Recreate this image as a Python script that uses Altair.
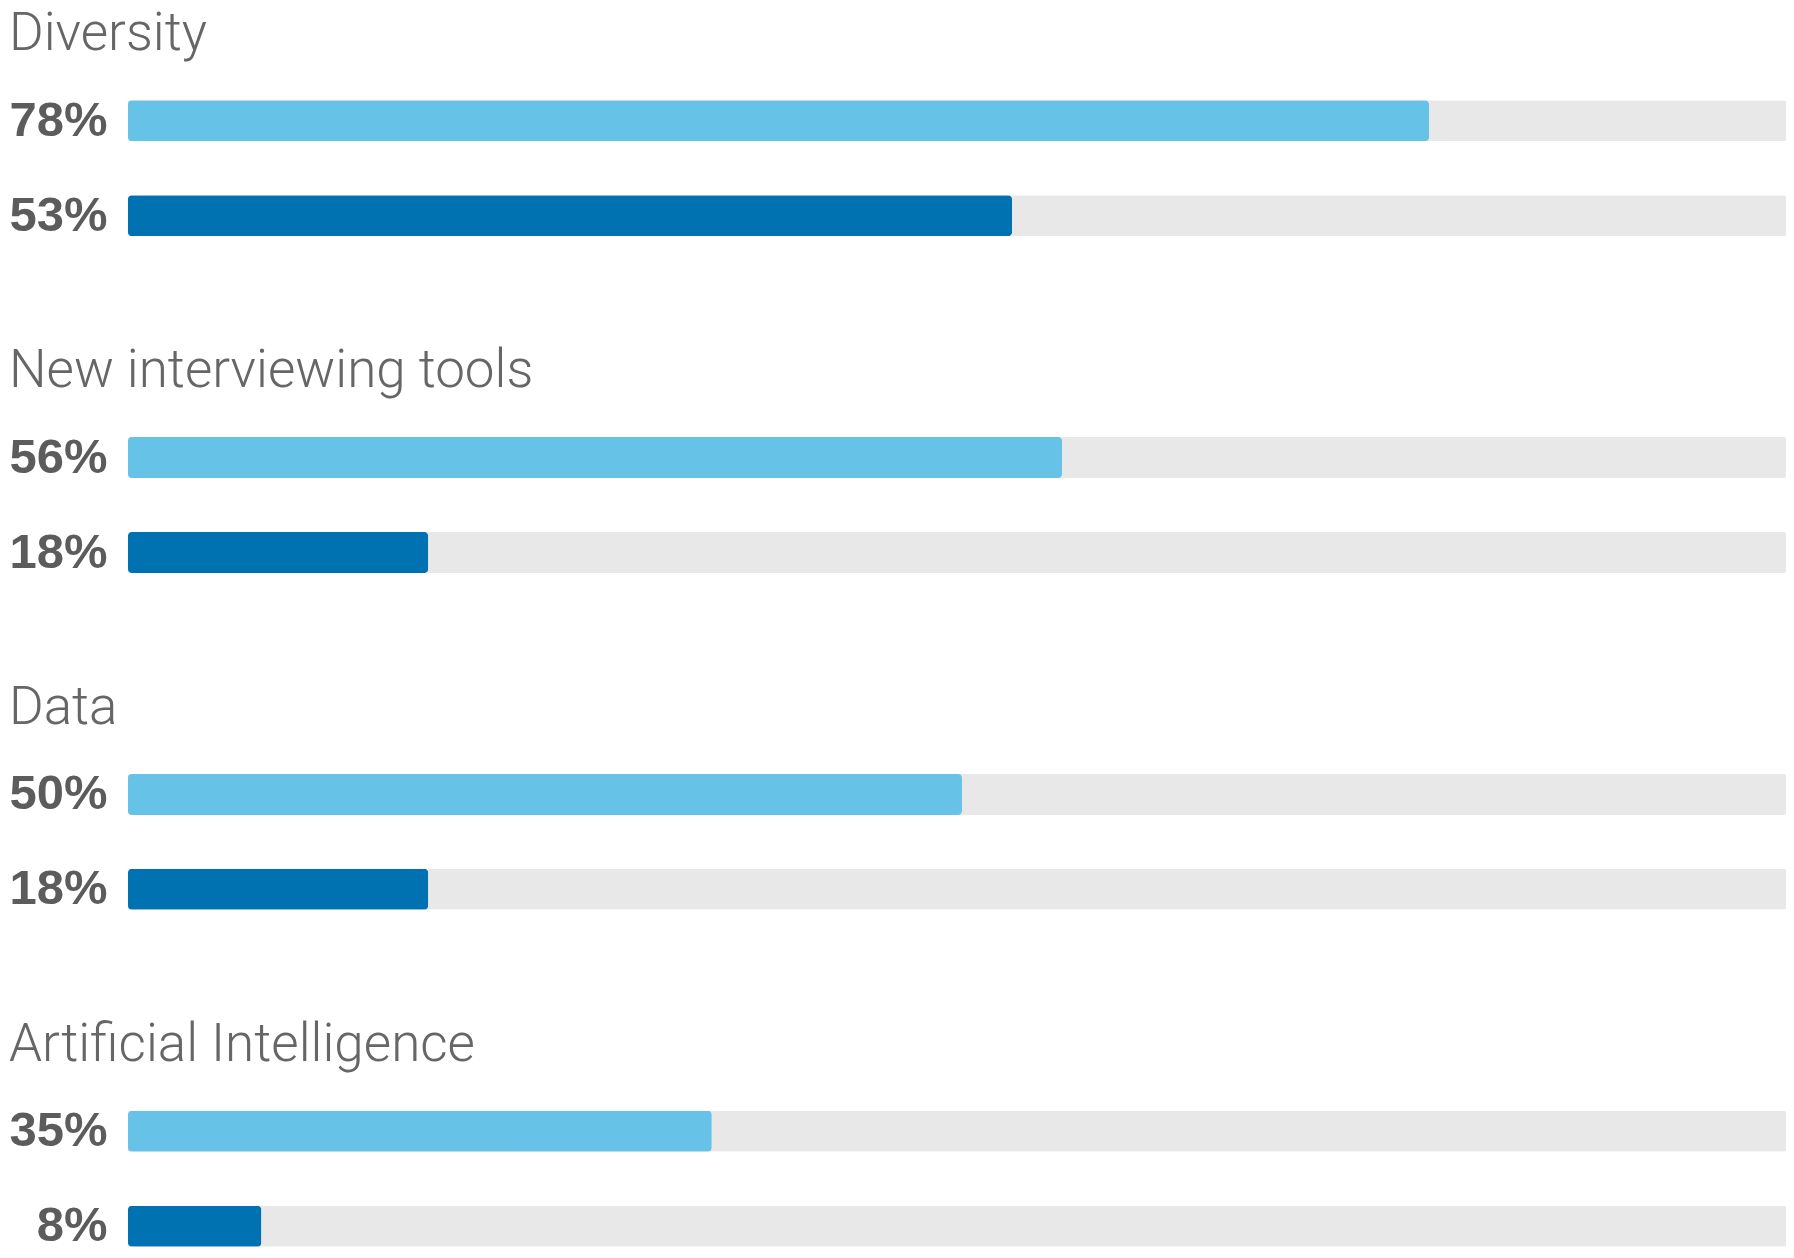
import altair as alt
import pandas as pd

categories = ["Diversity", "New interviewing tools", "Data", "Artificial Intelligence"]
series_a = [78, 56, 50, 35]
series_b = [53, 18, 18, 8]
series_names = ["A", "B"]
series_colors = ["#66C2E7", "#0071B1"]
track_color = "#E8E8E8"

rows = []
for i, cat in enumerate(categories):
    for j, v in enumerate([series_a[i], series_b[i]]):
        rows.append({"category": cat, "series": series_names[j], "order": j,
                     "value": v, "label": f"{v}%"})
df = pd.DataFrame(rows)

BAR_STEP = 95
BAR_H = 41
pad_inner = 1 - BAR_H / BAR_STEP
panel_h = BAR_STEP + BAR_H
panel_w = 1659

x_scale = alt.Scale(domain=[0, 99.4], clamp=True)


def panel(cat):
    d = df[df.category == cat]
    order = list(d.sort_values("order")["label"])
    base = alt.Chart(d)
    y = alt.Y(
        "label:N",
        sort=order,
        scale=alt.Scale(paddingInner=pad_inner, paddingOuter=0),
        axis=alt.Axis(domain=False, ticks=False, grid=False, labelFontSize=49,
                      labelFont="Liberation Sans", labelFontWeight="bold",
                      labelColor="#5c5c5c", labelPadding=21),
        title=None,
    )
    track = base.transform_calculate(track="100").mark_bar(
        color=track_color, cornerRadius=2
    ).encode(x=alt.X("track:Q", scale=x_scale, axis=None), y=y)
    bars = base.mark_bar(cornerRadius=4).encode(
        x=alt.X("value:Q", scale=x_scale, axis=None),
        y=y,
        color=alt.Color("series:N", scale=alt.Scale(domain=series_names, range=series_colors), legend=None),
    )
    return alt.layer(track, bars).properties(
        width=panel_w,
        height=panel_h,
        title=alt.TitleParams(text=cat, anchor="start", fontSize=53, font="Roboto",
                              fontWeight=300, color="#666666", baseline="alphabetic",
                              offset=-7, frame="bounds"),
    )


chart = alt.vconcat(*[panel(c) for c in categories], spacing=105).properties(
    padding=0
).configure_view(strokeWidth=0)

chart.save("out.html", embed_options={"renderer": "svg", "actions": False})
